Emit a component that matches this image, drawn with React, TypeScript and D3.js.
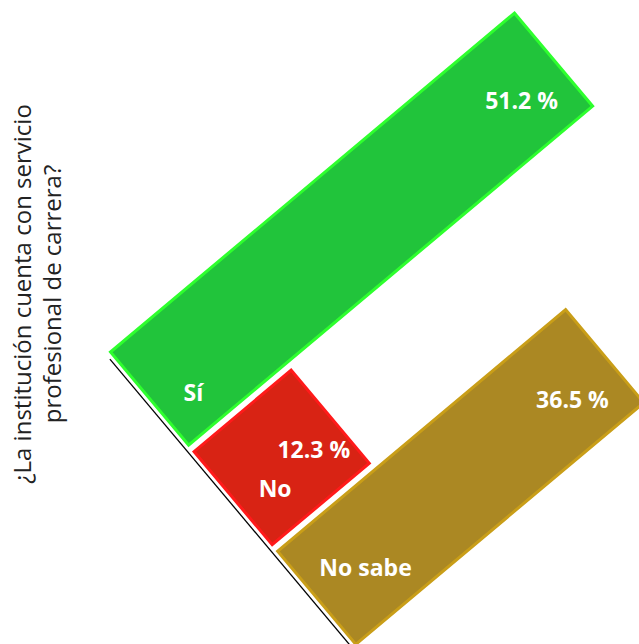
import React from "react";
import * as d3 from "d3";

const categories = ["Sí", "No", "No sabe"];
const values = [51.2, 12.3, 36.5];
const valueLabels = ["51.2 %", "12.3 %", "36.5 %"];
const titleLines = ["¿La institución cuenta con servicio", "profesional de carrera?"];

const fills = ["#21c43b", "#d82314", "#ab8823"];
const strokes = ["#2eff2e", "#ff1a1a", "#c99e18"];
// label offsets in the rotated frame (layout only)
const valueOffsets = [[-51, 11], [-34, 15], [-53, 13]];
const catOffsets = [[37, 24], [38, 20], [57, 8]];

const W = 639;
const H = 644;
const ORIGIN = [110.5, 352];
const ANGLE = -40;

export default function App() {
  const x = d3.scaleLinear().domain([0, 100]).range([0, 1030]);
  const y = d3.scaleBand<string>().domain(categories).range([0, 381.6]).paddingInner(0.065);
  const bw = y.bandwidth();
  const font = "'Open Sans', 'Noto Sans', sans-serif";
  return (
    <svg width={W} height={H} style={{ position: "absolute", left: 0, top: 0, background: "#fff" }}>
      <g transform={`translate(${ORIGIN[0]},${ORIGIN[1]}) rotate(${ANGLE})`}>
        <line x1={-5} x2={-5} y1={5} y2={430} stroke="#000" strokeWidth={1.3} />
        {categories.map((c, i) => (
          <rect
            key={c}
            x={0}
            y={y(c)!}
            width={x(values[i])}
            height={bw}
            fill={fills[i]}
            stroke={strokes[i]}
            strokeWidth={3}
            strokeLinejoin="miter"
          />
        ))}
        {categories.map((c, i) => {
          const lx = x(values[i]) + valueOffsets[i][0];
          const ly = y(c)! + bw / 2 + valueOffsets[i][1];
          return (
            <text
              key={"v" + c}
              transform={`translate(${lx},${ly}) rotate(${-ANGLE})`}
              textAnchor="middle"
              dy="0.36em"
              fill="#fff"
              fontFamily={font}
              fontWeight="bold"
              fontSize={23}
            >
              {valueLabels[i]}
            </text>
          );
        })}
        {categories.map((c, i) => {
          const lx = x(0) + catOffsets[i][0];
          const ly = y(c)! + bw / 2 + catOffsets[i][1];
          return (
            <text
              key={"c" + c}
              transform={`translate(${lx},${ly}) rotate(${-ANGLE})`}
              textAnchor="middle"
              dy="0.36em"
              fill="#fff"
              fontFamily={font}
              fontWeight="bold"
              fontSize={23}
            >
              {c}
            </text>
          );
        })}
      </g>
      {titleLines.map((t, i) => (
        <text
          key={t}
          transform={`translate(${31 + i * 30},294) rotate(-90)`}
          textAnchor="middle"
          fill="#222"
          fontFamily={font}
          fontSize={24}
        >
          {t}
        </text>
      ))}
    </svg>
  );
}
